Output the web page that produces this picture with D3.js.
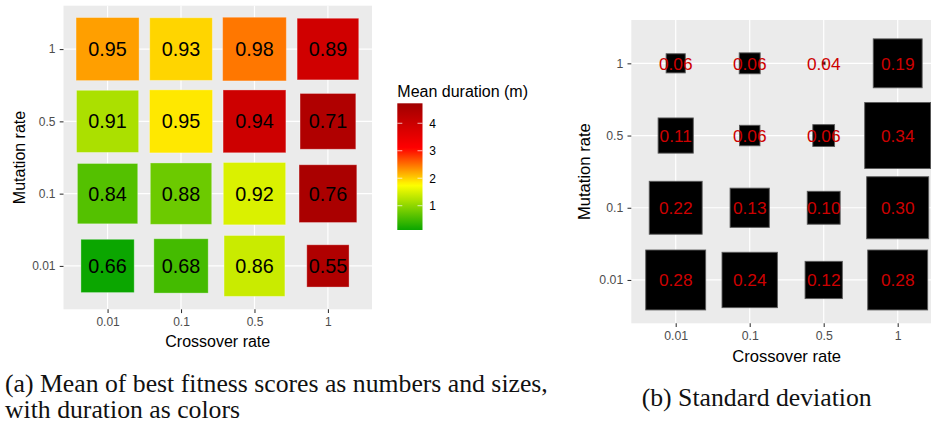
<!DOCTYPE html>
<html><head><meta charset="utf-8">
<script src="https://cdn.jsdelivr.net/npm/d3@7"></script>
<style>body{margin:0;background:#fff;} svg{display:block}</style>
</head><body>
<svg id="c" width="931" height="424"></svg>
<script>
// ---------- data ----------
const crossoverRates = ["0.01", "0.1", "0.5", "1"];
const mutationRates = ["0.01", "0.1", "0.5", "1"];
// rows follow mutationRates, columns follow crossoverRates
const meanFitness = [
  [0.66, 0.68, 0.86, 0.55],
  [0.84, 0.88, 0.92, 0.76],
  [0.91, 0.95, 0.94, 0.71],
  [0.95, 0.93, 0.98, 0.89]
];
const meanDuration = [
  [0.12, 0.50, 1.39, 4.46],
  [0.61, 0.77, 1.50, 4.56],
  [1.19, 1.87, 3.95, 4.46],
  [2.26, 1.97, 2.47, 3.90]
];
const stdFitness = [
  [0.28, 0.24, 0.12, 0.28],
  [0.22, 0.13, 0.10, 0.30],
  [0.11, 0.060, 0.063, 0.34],
  [0.057, 0.061, 0.040, 0.19]
];
const durationTicks = [1, 2, 3, 4];
const durationStops = [0.116, 1.75, 3.1, 4.727];
const durationColors = ["#0aa600", "#ffff00", "#ff0000", "#a00000"];
const legendTitle = "Mean duration (m)";
const xTitle = "Crossover rate";
const yTitle = "Mutation rate";
const captionA = ["(a) Mean of best fitness scores as numbers and sizes,", "with duration as colors"];
const captionB = "(b) Standard deviation";

// ---------- setup ----------
const svg = d3.select("#c");
const SANS = "'Liberation Sans', Arial, Helvetica, sans-serif";
const SERIF = "'Liberation Serif', 'Times New Roman', serif";

const cells = mutationRates.flatMap((m, i) => crossoverRates.map((c, j) => ({
  m, c, mean: meanFitness[i][j], dur: meanDuration[i][j], sd: stdFitness[i][j]
})));

const color = d3.scaleLinear().domain(durationStops).range(durationColors);
const sizeA = d3.scalePow().exponent(0.15).domain([0, 0.48]).range([0, 64.1]);
const sizeAOffset = 0.52;
const sizeB = d3.scalePow().exponent(0.433).domain([0, 0.3002]).range([0, 66]);
const sizeBOffset = 0.0398;

function panel(opt) {
  const g = svg.append("g");
  const x = d3.scalePoint().domain(crossoverRates).range([opt.x0, opt.x1]).padding(0.6);
  const y = d3.scalePoint().domain(mutationRates).range([opt.y1, opt.y0]).padding(0.6);
  g.append("rect").attr("x", opt.x0).attr("y", opt.y0)
    .attr("width", opt.x1 - opt.x0).attr("height", opt.y1 - opt.y0).attr("fill", "#ebebeb");
  // grid
  g.selectAll(".gx").data(crossoverRates).join("line")
    .attr("x1", d => x(d)).attr("x2", d => x(d)).attr("y1", opt.y0).attr("y2", opt.y1)
    .attr("stroke", "#fff").attr("stroke-width", 1.2);
  g.selectAll(".gy").data(mutationRates).join("line")
    .attr("y1", d => y(d)).attr("y2", d => y(d)).attr("x1", opt.x0).attr("x2", opt.x1)
    .attr("stroke", "#fff").attr("stroke-width", 1.2);
  // axes
  const ax = d3.axisBottom(x).tickSize(3.8).tickPadding(4.5);
  const gax = g.append("g").attr("transform", `translate(0,${opt.y1})`).call(ax);
  const ay = d3.axisLeft(y).tickSize(3.8).tickPadding(4.2);
  const gay = g.append("g").attr("transform", `translate(${opt.x0},0)`).call(ay);
  [gax, gay].forEach(a => {
    a.select(".domain").remove();
    a.selectAll(".tick line").attr("stroke", "#333").attr("stroke-width", 1.07);
    a.selectAll(".tick text").attr("fill", "#4d4d4d").attr("font-family", SANS)
      .attr("font-size", opt.tickFs);
  });
  // marks
  const sz = d => opt.size(d);
  g.selectAll(".cell").data(cells).join("rect")
    .attr("x", d => x(d.c) - sz(d) / 2).attr("y", d => y(d.m) - sz(d) / 2)
    .attr("width", sz).attr("height", sz)
    .attr("fill", opt.fill).attr("stroke", opt.stroke).attr("stroke-opacity", opt.strokeOpacity)
    .attr("stroke-width", 0.9);
  g.selectAll(".lab").data(cells).join("text")
    .attr("x", d => x(d.c)).attr("y", d => y(d.m)).attr("dy", "0.36em")
    .attr("text-anchor", "middle").attr("font-family", SANS).attr("font-size", opt.labFs)
    .attr("fill", opt.labColor).text(opt.label);
  // titles
  g.append("text").attr("x", (opt.x0 + opt.x1) / 2).attr("y", opt.xTitleY)
    .attr("text-anchor", "middle").attr("font-family", SANS).attr("font-size", opt.titleFs)
    .attr("fill", "#000").text(xTitle);
  g.append("text").attr("transform", `translate(${opt.yTitleX},${(opt.y0 + opt.y1) / 2}) rotate(-90)`)
    .attr("text-anchor", "middle").attr("font-family", SANS).attr("font-size", opt.titleFs)
    .attr("fill", "#000").text(yTitle);
}

// panel (a)
panel({
  x0: 63.5, x1: 372, y0: 5.7, y1: 309.3,
  tickFs: 12, labFs: 19.8, titleFs: 16, xTitleY: 346.8, yTitleX: 24.5,
  size: d => sizeA(d.mean - sizeAOffset),
  fill: d => color(d.dur), stroke: "#fff", strokeOpacity: 0.35,
  labColor: "#000", label: d => d.mean.toFixed(2)
});
// panel (b)
panel({
  x0: 631.3, x1: 942.1, y0: 20, y1: 323.3,
  tickFs: 12.3, labFs: 17.3, titleFs: 16.6, xTitleY: 361.5, yTitleX: 589.5,
  size: d => sizeB(d.sd - sizeBOffset),
  fill: "#000", stroke: "#5a5a5a", strokeOpacity: 1,
  labColor: "#cd0000", label: d => d.sd.toFixed(2)
});

// ---------- legend ----------
const lg = svg.append("g");
const lx = 397.3, lw = 25.2;
const ly = d3.scaleLinear().domain([durationStops[0], durationStops[durationStops.length - 1]]).range([230, 103.3]);
const grad = svg.append("defs").append("linearGradient").attr("id", "gr")
  .attr("x1", 0).attr("x2", 0).attr("y1", 1).attr("y2", 0);
const samples = d3.range(0, 41).map(i => ly.domain()[0] + i / 40 * (ly.domain()[1] - ly.domain()[0]));
grad.selectAll("stop").data(samples).join("stop")
  .attr("offset", d => (d - ly.domain()[0]) / (ly.domain()[1] - ly.domain()[0]))
  .attr("stop-color", d => color(d));
lg.append("rect").attr("x", lx).attr("y", ly.range()[1]).attr("width", lw)
  .attr("height", ly.range()[0] - ly.range()[1]).attr("fill", "url(#gr)");
lg.selectAll(".tl").data(durationTicks).join("g").each(function (d) {
  const s = d3.select(this);
  s.append("line").attr("x1", lx).attr("x2", lx + 5).attr("y1", ly(d)).attr("y2", ly(d))
    .attr("stroke", "#fff").attr("stroke-opacity", 0.7);
  s.append("line").attr("x1", lx + lw - 5).attr("x2", lx + lw).attr("y1", ly(d)).attr("y2", ly(d))
    .attr("stroke", "#fff").attr("stroke-opacity", 0.7);
  s.append("text").attr("x", 429.3).attr("y", ly(d)).attr("dy", "0.36em")
    .attr("font-family", SANS).attr("font-size", 12).attr("fill", "#000").text(d);
});
lg.append("text").attr("x", lx).attr("y", 97.3).attr("font-family", SANS).attr("font-size", 16)
  .attr("fill", "#000").text(legendTitle);

// ---------- captions ----------
const capA1 = svg.append("text").attr("x", 5).attr("y", 391.7).attr("font-family", SERIF)
  .attr("font-size", 22).attr("fill", "#111").text(captionA[0]);
const w22 = capA1.node().getComputedTextLength();
const capFs = 22 * 543 / w22;
capA1.attr("font-size", capFs);
svg.append("text").attr("x", 5).attr("y", 418.2).attr("font-family", SERIF)
  .attr("font-size", capFs).attr("fill", "#111").text(captionA[1]);
svg.append("text").attr("x", 641.7).attr("y", 406).attr("font-family", SERIF)
  .attr("font-size", capFs).attr("fill", "#111").text(captionB);
</script>
</body></html>
